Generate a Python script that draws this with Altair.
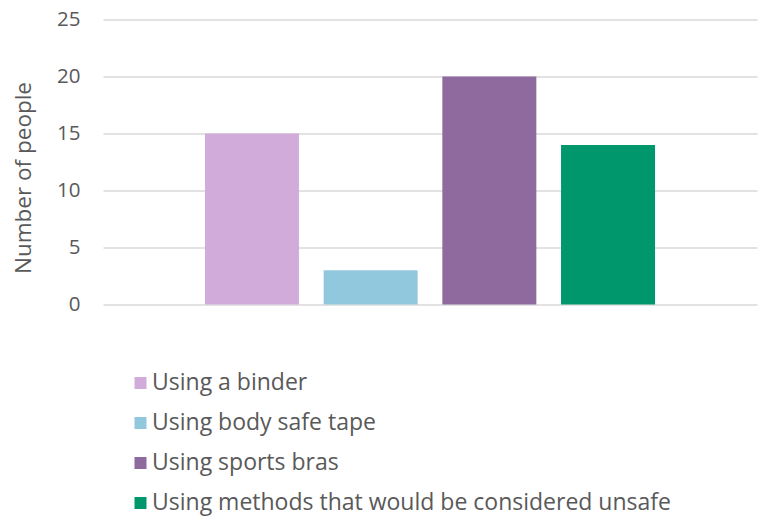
import altair as alt
import pandas as pd

methods = [
    "Using a binder",
    "Using body safe tape",
    "Using sports bras",
    "Using methods that would be considered unsafe",
]
counts = [15, 3, 20, 14]
colors = ["#D1ACDB", "#92C8DE", "#8E6A9E", "#00976D"]
y_ticks = [0, 5, 10, 15, 20, 25]

df = pd.DataFrame({"method": methods, "count": counts})

FONT = "Open Sans"
TXT = "#595959"

chart = (
    alt.Chart(df)
    .mark_bar()
    .encode(
        x=alt.X(
            "method:N",
            sort=methods,
            axis=None,
            scale=alt.Scale(paddingInner=0.208, paddingOuter=0.859),
        ),
        y=alt.Y(
            "count:Q",
            scale=alt.Scale(domain=[0, 25], nice=False),
            axis=alt.Axis(
                values=y_ticks,
                title="Number of people",
                domain=False,
                ticks=False,
                grid=True,
                gridColor="#D9D9D9",
                gridWidth=1.3,
                labelFont=FONT,
                labelFontSize=20.5,
                labelColor=TXT,
                labelPadding=23,
                titleFont=FONT,
                titleFontSize=22.5,
                titleFontWeight="normal",
                titleColor=TXT,
                titleX=-80,
                titleY=158,
                titleBaseline="middle",
            ),
        ),
        color=alt.Color(
            "method:N",
            sort=methods,
            scale=alt.Scale(domain=methods, range=colors),
            legend=alt.Legend(
                title=None,
                orient="none",
                legendX=26,
                legendY=352,
                direction="vertical",
                symbolType="square",
                symbolSize=144,
                symbolStrokeWidth=0,
                labelFont=FONT,
                labelFontSize=23,
                labelColor=TXT,
                labelOffset=0,
                rowPadding=16,
                padding=0,
                labelLimit=700,
            ),
        ),
    )
    .properties(
        width=654,
        height=285,
        autosize=alt.AutoSizeParams(type="none"),
        padding={"left": 103, "top": 19.5, "right": 4, "bottom": 214.5},
    )
    .configure(background="white")
    .configure_view(stroke=None)
)

chart.save("out.html", embed_options={"renderer": "svg", "actions": False})
